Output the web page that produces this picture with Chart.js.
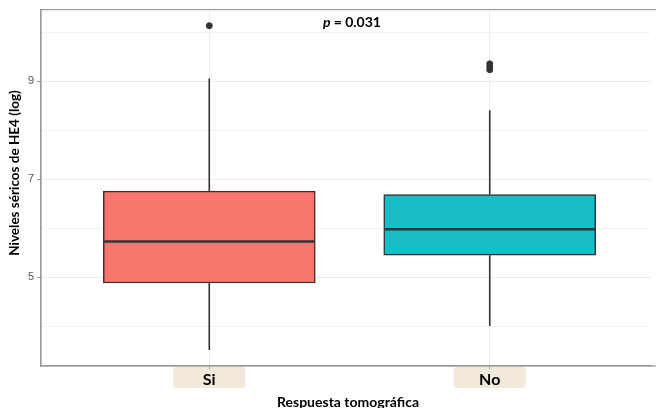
<!DOCTYPE html>
<html>
<head>
<meta charset="utf-8">
<script src="https://cdn.jsdelivr.net/npm/chart.js@4/dist/chart.umd.min.js"></script>
<style>
  html, body { margin: 0; padding: 0; background: #fff; overflow: hidden; }
  #wrap { width: 656px; height: 408px; }
</style>
</head>
<body>
<div id="wrap"><canvas id="chart"></canvas></div>
<script>
// data
var categories = ["Si", "No"];
var q1 = [4.88, 5.45];
var median = [5.73, 5.98];
var q3 = [6.76, 6.69];
var whiskerLow = [3.51, 4.0];
var whiskerHigh = [9.06, 8.41];
var outliersSi = [10.14];
var outliersNo = [9.24, 9.30, 9.36];
var yTickLabels = [5, 7, 9];
var boxColors = ["#F8766D", "#17BEC5"];
var pText = "= 0.031";

var boxData = categories.map(function (c, i) {
    return { x: i + 1, y: [q1[i], q3[i]] };
});
var outlierData = [];
outliersSi.forEach(function (v) { outlierData.push({ x: 1, y: v }); });
outliersNo.forEach(function (v) { outlierData.push({ x: 2, y: v }); });

var boxExtras = {
    id: "boxExtras",
    beforeDraw: function (chart) {
        // beige label boxes behind category labels
        var ctx = chart.ctx, xs = chart.scales.x;
        ctx.save();
        ctx.fillStyle = "#f2e9dc";
        categories.forEach(function (c, i) {
            var px = xs.getPixelForValue(i + 1);
            ctx.beginPath();
            ctx.roundRect(px - 36, 367, 72, 21, 3);
            ctx.fill();
        });
        ctx.restore();
    },
    afterDatasetsDraw: function (chart) {
        var ctx = chart.ctx, xs = chart.scales.x, ys = chart.scales.y;
        ctx.save();
        ctx.strokeStyle = "#333333";
        ctx.lineCap = "butt";
        categories.forEach(function (c, i) {
            var px = xs.getPixelForValue(i + 1);
            ctx.lineWidth = 1.6;
            ctx.beginPath();
            ctx.moveTo(px, ys.getPixelForValue(q3[i]));
            ctx.lineTo(px, ys.getPixelForValue(whiskerHigh[i]));
            ctx.moveTo(px, ys.getPixelForValue(q1[i]));
            ctx.lineTo(px, ys.getPixelForValue(whiskerLow[i]));
            ctx.stroke();
            var half = 0.375 * (xs.getPixelForValue(2) - xs.getPixelForValue(1));
            ctx.lineWidth = 2.6;
            ctx.beginPath();
            ctx.moveTo(px - half, ys.getPixelForValue(median[i]));
            ctx.lineTo(px + half, ys.getPixelForValue(median[i]));
            ctx.stroke();
        });
        ctx.restore();
    },
    afterDraw: function (chart) {
        var ctx = chart.ctx, area = chart.chartArea;
        ctx.save();
        // panel border
        ctx.strokeStyle = "#9a9a9a";
        ctx.lineWidth = 1.2;
        ctx.strokeRect(area.left, area.top, area.right - area.left + 10, area.bottom - area.top);

        // p value
        ctx.fillStyle = "#000";
        ctx.textBaseline = "middle";
        ctx.font = "italic bold 14px Lato";
        var pw = ctx.measureText("p ").width;
        ctx.font = "bold 14px Lato";
        var rw = ctx.measureText(pText).width;
        var sx = 352 - (pw + rw) / 2;
        ctx.font = "italic bold 14px Lato";
        ctx.fillText("p ", sx, 22);
        ctx.font = "bold 14px Lato";
        ctx.fillText(pText, sx + pw, 22);

        // axis titles
        ctx.textAlign = "center";
        ctx.textBaseline = "alphabetic";
        ctx.font = "bold 14px Lato";
        ctx.fillText("Respuesta tomográfica", 348, 407);
        ctx.translate(19, 173);
        ctx.rotate(-Math.PI / 2);
        ctx.font = "bold 13.5px Lato";
        ctx.fillText("Niveles séricos de HE4 (log)", 0, 0);
        ctx.restore();
    }
};

new Chart(document.getElementById("chart"), {
    type: "bar",
    data: {
        datasets: [{
            type: "bar",
            data: boxData,
            backgroundColor: boxColors,
            borderColor: "#333333",
            borderWidth: 1.5,
            borderSkipped: false,
            barThickness: 212,
            order: 2
        }, {
            type: "scatter",
            data: outlierData,
            backgroundColor: "#333333",
            borderColor: "#333333",
            pointRadius: 3,
            order: 1
        }]
    },
    options: {
        responsive: true,
        maintainAspectRatio: false,
        animation: false,
        layout: { padding: { top: 9, left: 0, right: 0, bottom: 0 } },
        plugins: {
            legend: { display: false },
            tooltip: { enabled: false }
        },
        scales: {
            x: {
                type: "linear",
                offset: false,
                min: 0.4,
                max: 2.575,
                afterBuildTicks: function (scale) {
                    scale.ticks = categories.map(function (c, i) { return { value: i + 1 }; });
                },
                afterFit: function (scale) { scale.height = 42; },
                ticks: {
                    color: "#000",
                    font: { family: "Lato", size: 16, weight: "bold" },
                    padding: 1,
                    maxRotation: 0,
                    callback: function (v) { return categories[v - 1]; }
                },
                grid: { offset: false, color: "#ececec", tickLength: 3, tickColor: "#9a9a9a" },
                border: { color: "#9a9a9a", width: 1.2 }
            },
            y: {
                min: 3.184,
                max: 10.469,
                afterFit: function (scale) { scale.width = 41; },
                ticks: {
                    stepSize: 1,
                    includeBounds: false,
                    color: "#555",
                    padding: 3,
                    font: { family: "Liberation Sans", size: 11 },
                    callback: function (v) { return yTickLabels.indexOf(v) >= 0 ? String(v) : ""; }
                },
                grid: {
                    color: function (c) { return yTickLabels.indexOf(c.tick && c.tick.value) >= 0 ? "#ebebeb" : "#f3f3f3"; },
                    tickLength: 4,
                    tickColor: function (c) { return yTickLabels.indexOf(c.tick && c.tick.value) >= 0 ? "#9a9a9a" : "rgba(0,0,0,0)"; }
                },
                border: { color: "#9a9a9a", width: 1.2 }
            }
        }
    },
    plugins: [boxExtras]
});
</script>
</body>
</html>
